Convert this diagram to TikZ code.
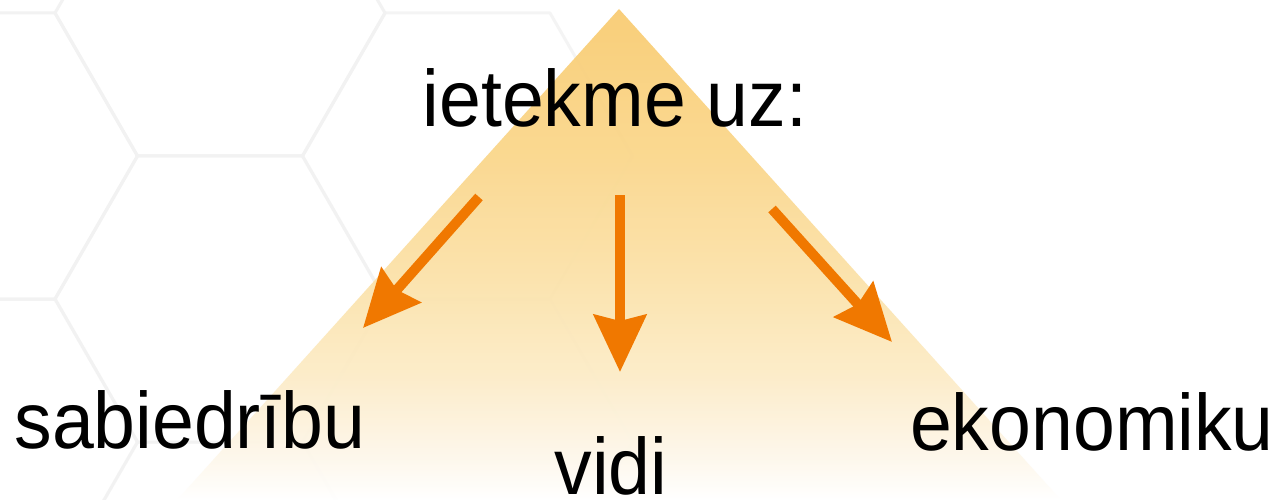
\documentclass[tikz,border=0pt]{standalone}
\usepackage{fontspec}
\setmainfont[FakeStretch=0.94]{Liberation Sans}
\usetikzlibrary{arrows.meta}
\definecolor{arrorange}{RGB}{240,120,0}
\definecolor{hexgray}{RGB}{242,242,242}
\definecolor{trA}{RGB}{253,246,232}
\definecolor{trB}{RGB}{252,236,200}
\definecolor{trC}{RGB}{251,226,170}
\definecolor{trD}{RGB}{250,215,140}
\definecolor{trE}{RGB}{249,204,115}
\pgfdeclareverticalshading{trishade}{100bp}{%
  color(0bp)=(white);
  color(25bp)=(white);
  color(30bp)=(trA);
  color(37.5bp)=(trB);
  color(47.5bp)=(trC);
  color(60bp)=(trD);
  color(75bp)=(trE);
  color(100bp)=(trE)}
\begin{document}
\begin{tikzpicture}[x=1pt,y=-1pt,
  hexline/.style={draw=hexgray,line width=3pt,line join=round},
  arr/.style={draw=arrorange,line width=10pt,
    -{Stealth[length=57pt,width=52pt,inset=6pt]}},
  lbl/.style={inner sep=0pt,anchor=base,font=\fontsize{80}{96}\selectfont}]
\useasboundingbox (0,0) rectangle (1288,500);
\fill[white] (0,0) rectangle (1288,500);
% faint honeycomb background
\foreach \cx/\cy/\op in {-27.5/156/1,-27.5/442/0.8,220/13/1,220/299/0.8,220/585/0.6,
  467.5/156/0.8,467.5/442/0.6}{
  \draw[hexline,draw opacity=\op]
    ({\cx-165},{\cy}) -- ({\cx-82.5},{\cy-143}) -- ({\cx+82.5},{\cy-143})
    -- ({\cx+165},{\cy}) -- ({\cx+82.5},{\cy+143}) -- ({\cx-82.5},{\cy+143}) -- cycle;
}
% triangle
\shade[shading=trishade,opacity=0.95] (619,9) -- (1061,500) -- (177,500) -- cycle;
% texts
\node[lbl] (top) at (615,127) {ietekme uz:};
\node[lbl] (soc) at (190,448) {sabiedrību};
\node[lbl] (env) at (611,494) {vidi};
\node[lbl] (eco) at (1092,450) {ekonomiku};
% arrows
\coordinate (aLs) at (479,197); \coordinate (aLe) at (363,328);
\coordinate (aMs) at (620,195); \coordinate (aMe) at (620,372);
\coordinate (aRs) at (772,209); \coordinate (aRe) at (892,342);
\draw[arr] (aLs) -- (aLe);
\draw[arr] (aMs) -- (aMe);
\draw[arr] (aRs) -- (aRe);
\end{tikzpicture}
\end{document}
